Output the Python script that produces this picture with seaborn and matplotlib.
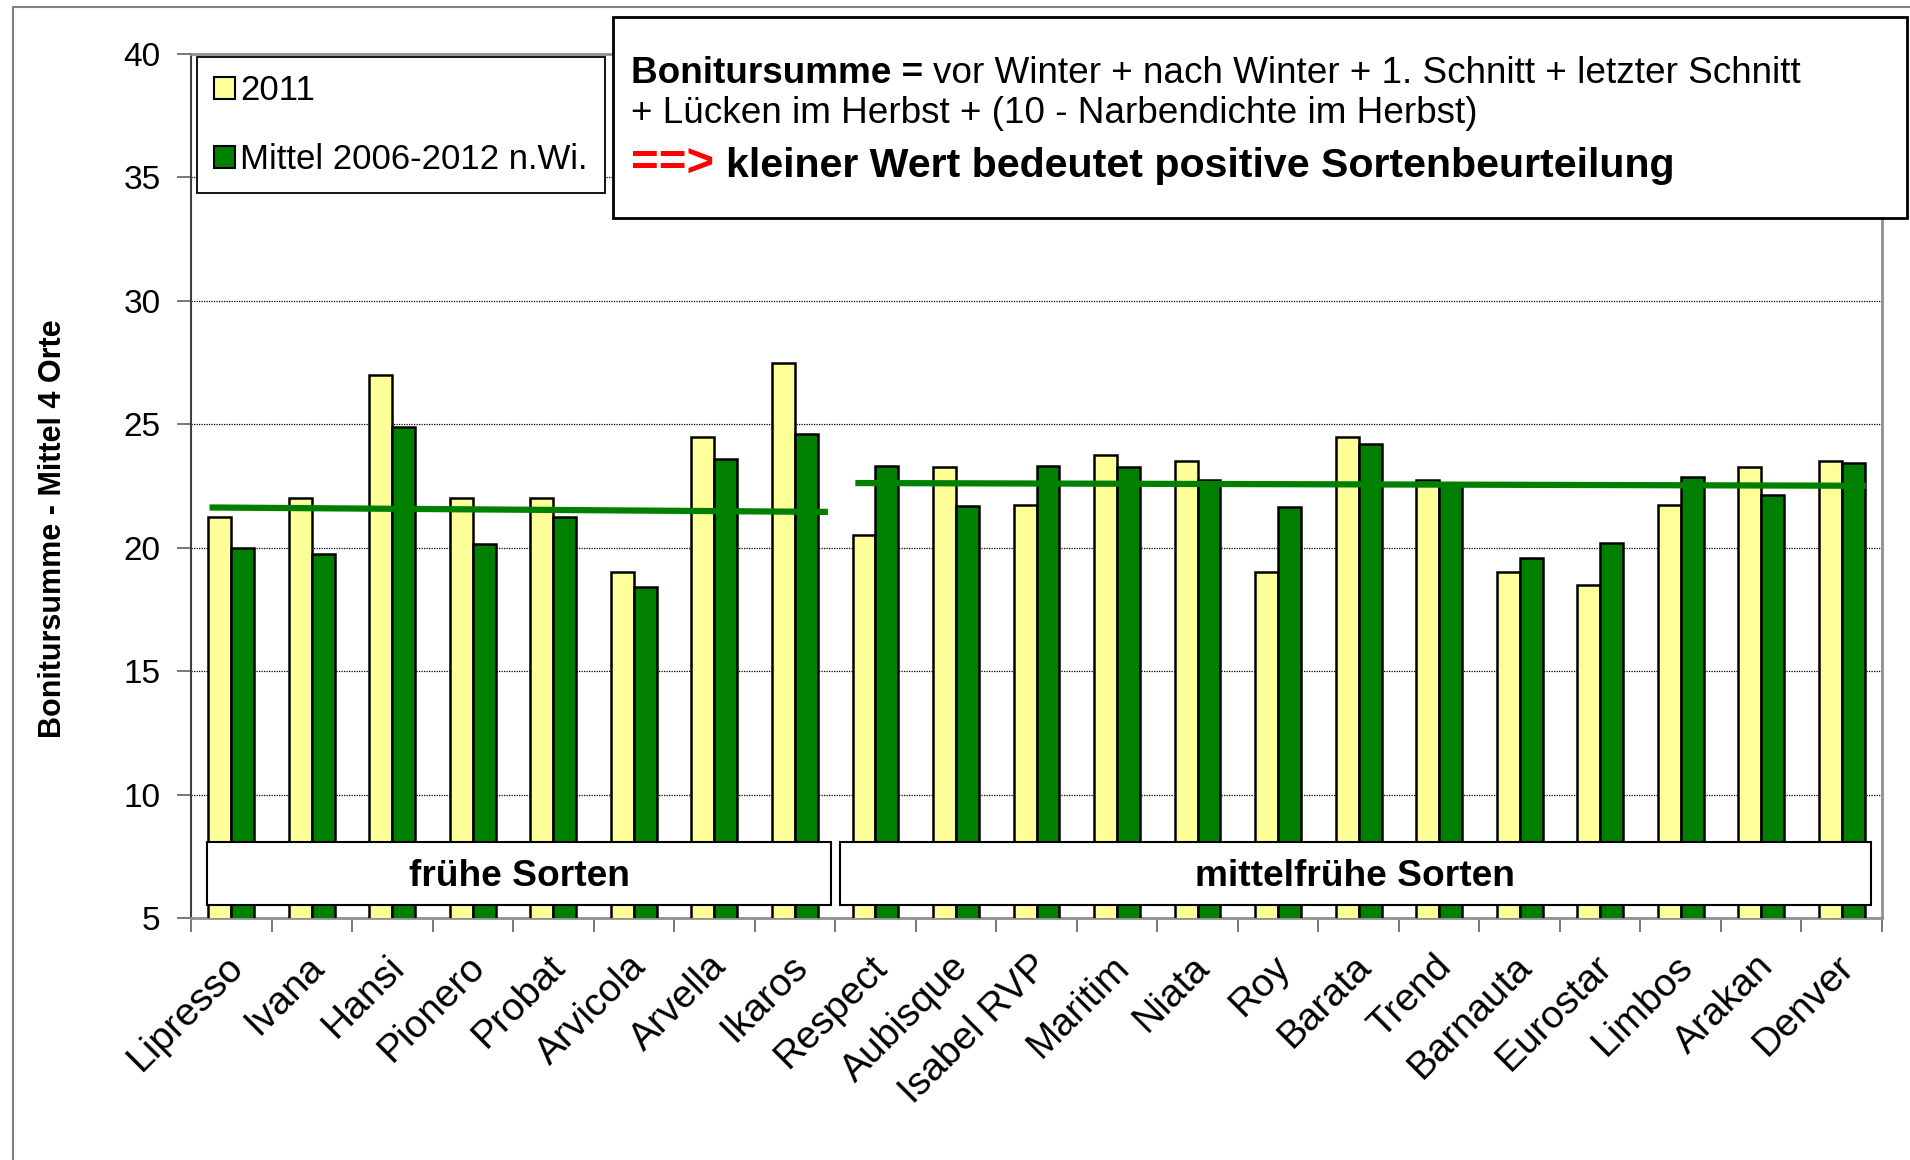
import numpy as np
import pandas as pd
import matplotlib
matplotlib.use("Agg")
import matplotlib.pyplot as plt
import matplotlib.transforms as mtransforms
from matplotlib.patches import Rectangle, Patch
import seaborn as sns

# ---------------- data ----------------
categories = ["Lipresso", "Ivana", "Hansi", "Pionero", "Probat", "Arvicola", "Arvella",
              "Ikaros", "Respect", "Aubisque", "Isabel RVP", "Maritim", "Niata", "Roy",
              "Barata", "Trend", "Barnauta", "Eurostar", "Limbos", "Arakan", "Denver"]
values_2011 = [21.25, 22.0, 27.0, 22.0, 22.0, 19.0, 24.5, 27.5, 20.5, 23.25, 21.75,
               23.75, 23.5, 19.0, 24.5, 22.75, 19.0, 18.5, 21.75, 23.25, 23.5]
values_mittel = [20.0, 19.75, 24.9, 20.15, 21.25, 18.4, 23.6, 24.6, 23.3, 21.7, 23.3,
                 23.25, 22.75, 21.65, 24.2, 22.6, 19.6, 20.2, 22.85, 22.15, 23.45]
series_names = ["2011", "Mittel 2006-2012 n.Wi."]
trend_early = [21.63, 21.45]
trend_late = [22.62, 22.51]
group_labels = ["frühe Sorten", "mittelfrühe Sorten"]
yticks = [5, 10, 15, 20, 25, 30, 35, 40]
ylabel = "Bonitursumme - Mittel 4 Orte"

df = pd.DataFrame({
    "Sorte": categories * 2,
    "Wert": values_2011 + values_mittel,
    "Serie": [series_names[0]] * len(categories) + [series_names[1]] * len(categories),
})

YELLOW = "#FFFF99"
GREEN = "#008000"

sns.set_theme(style="white")
plt.rcParams["font.family"] = ["Liberation Sans", "DejaVu Sans"]
plt.rcParams["text.color"] = "black"
plt.rcParams["axes.labelcolor"] = "black"
plt.rcParams["xtick.color"] = "black"
plt.rcParams["ytick.color"] = "black"

W, H = 1910, 1160
fig = plt.figure(figsize=(W / 100, H / 100), dpi=100)
fig.patch.set_facecolor("white")
ax = fig.add_axes([191 / W, 1 - 918 / H, (1882 - 191) / W, (918 - 54) / H])

sns.barplot(data=df, x="Sorte", y="Wert", hue="Serie", palette=[YELLOW, GREEN],
            width=0.57, gap=0, edgecolor="black", linewidth=1.8, saturation=1,
            legend=False, ax=ax, zorder=3)

ax.set_ylim(5, 40)
ax.set_xlim(-0.5, len(categories) - 0.5)
ax.set_yticks(yticks)
ax.set_yticklabels([str(v) for v in yticks], fontsize=24, color="black")
ax.set_xlabel("")
ax.set_ylabel("")

# grid
for v in yticks[1:-1]:
    ax.axhline(v, color="black", lw=0.9, ls=(0, (1, 1)), zorder=1)

# spines
for s in ["top", "right", "bottom"]:
    ax.spines[s].set_color("#909090")
    ax.spines[s].set_linewidth(2)
ax.spines["left"].set_color("#404040")
ax.spines["left"].set_linewidth(1.5)

# ticks
ax.set_xticks(np.arange(len(categories)))
ax.set_xticklabels(categories, rotation=45, ha="right", rotation_mode="anchor", fontsize=28,
                   color="black")
ax.set_xticks(np.arange(-0.5, len(categories), 1), minor=True)
ax.tick_params(axis="x", which="major", length=0, pad=22)
ax.tick_params(axis="x", which="minor", length=10, width=1.2, color="#606060", direction="out", bottom=True)
ax.tick_params(axis="y", which="major", length=10, width=1.2, color="#606060", direction="out",
               left=True, pad=12, labelcolor="black")
offset = mtransforms.ScaledTranslation(-6 / 100, 0, fig.dpi_scale_trans)
for lab in ax.get_xticklabels():
    lab.set_transform(lab.get_transform() + offset)

# trend lines
n_early = 8
ax.plot([-0.27, n_early - 1 + 0.41], trend_early, color=GREEN, lw=4.5, zorder=4, solid_capstyle="butt")
ax.plot([n_early - 0.25, len(categories) - 1 + 0.3], trend_late, color=GREEN, lw=4.5, zorder=4,
        solid_capstyle="butt")

# group boxes
boxes = [(-0.30, 7.45), (7.56, 20.36)]
for (x0, x1), lab in zip(boxes, group_labels):
    ax.add_patch(Rectangle((x0, 5.54), x1 - x0, 8.06 - 5.54, facecolor="white",
                           edgecolor="black", lw=1.5, zorder=5))
    ax.text((x0 + x1) / 2, 6.7, lab, ha="center", va="center", fontsize=26.7,
            fontweight="bold", color="black", zorder=6)

# legend
handles = [Patch(facecolor=YELLOW, edgecolor="black", lw=1.5),
           Patch(facecolor=GREEN, edgecolor="black", lw=1.5)]
leg = ax.legend(handles, series_names, loc="upper left",
                bbox_to_anchor=(197 / W, 1 - 57 / H), bbox_transform=fig.transFigure,
                frameon=True, fancybox=False, fontsize=25, handlelength=0.6,
                handleheight=0.6, handletextpad=0.15, labelspacing=1.02,
                borderpad=0.5, borderaxespad=0, labelcolor="black")
leg.get_frame().set_edgecolor("black")
leg.get_frame().set_linewidth(1.3)
leg.get_frame().set_alpha(1)
leg.set_zorder(10)

# y label
fig.text(53 / W, 1 - 529 / H, ylabel, rotation=90, ha="center", va="center",
         fontsize=22, fontweight="bold", color="black")

# outer border
fig.add_artist(Rectangle((13 / W, -0.02), 1.0, 1 - 7 / H + 0.02, transform=fig.transFigure,
                         facecolor="none", edgecolor="#808080", lw=1.5, zorder=0))

# text box
fig.add_artist(Rectangle((613 / W, 1 - 218 / H), (1907 - 613) / W, (218 - 17) / H,
                         transform=fig.transFigure, facecolor="white", edgecolor="black",
                         lw=2, zorder=20))
FS1 = 26.6
FS3 = 29.6
t1 = fig.text(631 / W, 1 - 83 / H, "Bonitursumme =", fontsize=FS1, fontweight="bold",
              va="baseline", ha="left", color="black", zorder=21)
fig.text(631 / W, 1 - 123 / H, "+ Lücken im Herbst + (10 - Narbendichte im Herbst)",
         fontsize=FS1, va="baseline", ha="left", color="black", zorder=21)
t3 = fig.text(631 / W, 1 - 177 / H, "==>", fontsize=34, fontweight="bold", color="#FF0000",
              va="baseline", ha="left", zorder=21)

fig.canvas.draw()
renderer = fig.canvas.get_renderer()
bb1 = t1.get_window_extent(renderer)
gap1 = 0.278 * FS1 * 100 / 72
fig.text((bb1.x1 + gap1) / W, 1 - 83 / H, "vor Winter + nach Winter + 1. Schnitt + letzter Schnitt",
         fontsize=FS1, va="baseline", ha="left", color="black", zorder=21)
bb3 = t3.get_window_extent(renderer)
gap3 = 0.3 * FS3 * 100 / 72
fig.text((bb3.x1 + gap3) / W, 1 - 177 / H, "kleiner Wert bedeutet positive Sortenbeurteilung",
         fontsize=FS3, fontweight="bold", va="baseline", ha="left", color="black", zorder=21)

fig.savefig("out.png", dpi=100, facecolor="white")
